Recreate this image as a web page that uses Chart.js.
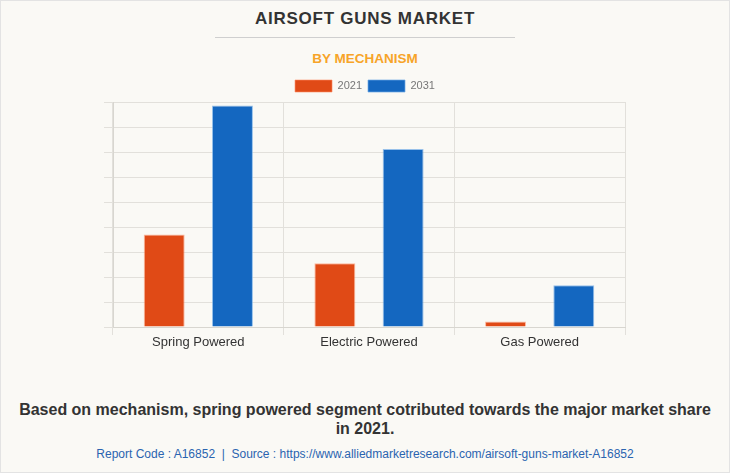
<!DOCTYPE html>
<html><head><meta charset="utf-8">
<script src="https://cdn.jsdelivr.net/npm/chart.js@4.4.0/dist/chart.umd.min.js"></script>
<style>
html,body{margin:0;padding:0;}
body{width:730px;height:473px;background:#faf9f5;position:relative;overflow:hidden;font-family:"Liberation Sans",Arial,sans-serif;}
#frame{position:absolute;left:0;top:0;width:728px;height:471px;border:1px solid #e3e3e3;}
#title{position:absolute;top:9px;left:0;width:730px;text-align:center;font-weight:bold;font-size:17px;letter-spacing:0.75px;color:#333;}
#rule{position:absolute;top:37px;left:215px;width:300px;height:1px;background:#cfcfcf;}
#sub{position:absolute;top:51px;left:0;width:730px;text-align:center;font-weight:bold;font-size:13.5px;color:#f7a428;}
#wrap{position:absolute;left:0;top:74px;width:730px;height:290px;}
#cap{position:absolute;top:400px;left:0;width:730px;text-align:center;font-weight:bold;font-size:16px;line-height:19px;color:#333;}
#foot{position:absolute;top:447px;left:0;width:730px;text-align:center;font-size:12px;color:#2a64b0;}
</style></head>
<body>
<div id="frame"></div>
<div id="title">AIRSOFT GUNS MARKET</div>
<div id="rule"></div>
<div id="sub">BY MECHANISM</div>
<div id="wrap"><canvas id="c" width="730" height="290"></canvas></div>
<div id="cap">Based on mechanism, spring powered segment cotributed towards the major market share<br>in 2021.</div>
<div id="foot">Report Code : A16852 &nbsp;|&nbsp; Source : https://www.alliedmarketresearch.com/airsoft-guns-market-A16852</div>
<script>
const categories = ["Spring Powered", "Electric Powered", "Gas Powered"];
const seriesNames = ["2021", "2031"];
const values2021 = [3.7, 2.55, 0.22];
const values2031 = [8.86, 7.12, 1.67];

const grid = '#e2e0db';
const fam = '"Liberation Sans", Arial, sans-serif';
new Chart(document.getElementById('c'), {
  type: 'bar',
  data: {
    labels: categories,
    datasets: [
      {label: seriesNames[0], data: values2021, backgroundColor: '#e04a16', borderColor: 'rgba(255,140,100,0.6)', borderWidth: 1, categoryPercentage: 0.8, barPercentage: 0.6},
      {label: seriesNames[1], data: values2031, backgroundColor: '#1467c0', borderColor: 'rgba(110,170,230,0.7)', borderWidth: 1, categoryPercentage: 0.8, barPercentage: 0.6}
    ]
  },
  options: {
    responsive: false,
    animation: false,
    layout: {padding: 0},
    plugins: {
      legend: {
        position: 'top',
        labels: {boxWidth: 37, boxHeight: 12, padding: 6, color: '#777', font: {family: fam, size: 11}}
      },
      tooltip: {enabled: false}
    },
    scales: {
      x: {
        grid: {color: grid, tickLength: 8, offset: true},
        border: {color: '#d8d6d0'},
        ticks: {color: '#333', font: {family: fam, size: 13}, padding: 0},
        afterFit: (a) => { a.height = 37; }
      },
      y: {
        min: 0, max: 9,
        grid: {color: grid, tickLength: 9},
        border: {color: '#d8d6d0'},
        ticks: {display: false, stepSize: 1},
        afterFit: (a) => { a.width = 113; }
      },
      yRight: {
        position: 'right',
        min: 0, max: 9,
        grid: {display: false},
        border: {display: false},
        ticks: {display: false},
        afterFit: (a) => { a.width = 105; }
      }
    }
  }
});
</script>
</body></html>
